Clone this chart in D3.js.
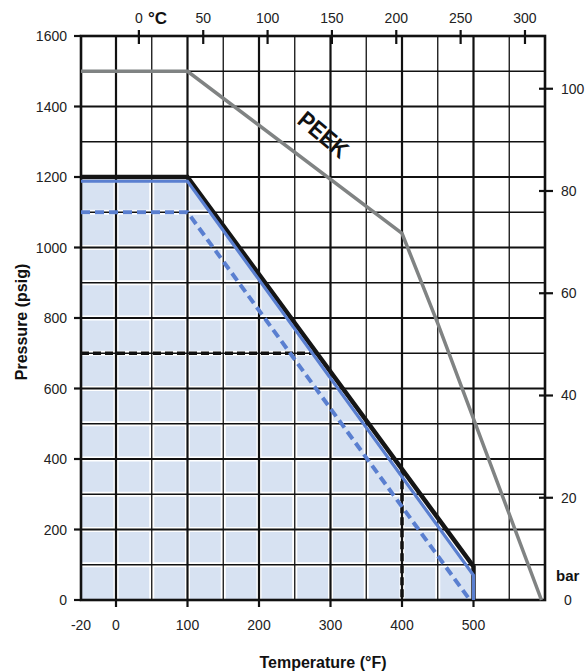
<!DOCTYPE html>
<html>
<head>
<meta charset="utf-8">
<script src="https://cdn.jsdelivr.net/npm/d3@7"></script>
<style>
  body { margin: 0; background: #fff; }
  text { font-family: "Liberation Sans Narrow", "Arial Narrow", "Liberation Sans", Arial, sans-serif; fill: #222; }
</style>
</head>
<body>
<svg id="chart" width="588" height="671"></svg>
<script>
// data (temperature in °F, pressure in psig)
var peekT = [-20, 100, 400, 450, 595];
var peekP = [1500, 1500, 1040, 785, 0];
var blackT = [-20, 100, 500, 500];
var blackP = [1200, 1200, 95, 0];
var blueT = [-20, 100, 500, 500];
var blueP = [1188, 1188, 70, 0];
var blueDashT = [-20, 100, 495];
var blueDashP = [1100, 1100, 0];
var dashHT = [-20, 281];
var dashHP = [700, 700];
var dashVT = [400, 400];
var dashVP = [371, 0];

var xTicks = [-20, 0, 100, 200, 300, 400, 500];
var yTicks = [0, 200, 400, 600, 800, 1000, 1200, 1400, 1600];
var cTicks = [0, 50, 100, 150, 200, 250, 300];
var barTicks = [20, 40, 60, 80, 100];

var svg = d3.select("#chart");

// left edge is labelled -20, grid starts at 0
var x = d3.scaleLinear().domain([-20, 0, 600]).range([81, 116, 545]);
var y = d3.scaleLinear().domain([0, 1600]).range([600, 36]);

function pts(T, P) { return T.map(function(t, i) { return [t, P[i]]; }); }
var line = d3.line().x(function(d) { return x(d[0]); }).y(function(d) { return y(d[1]); });

// fill under the blue line
var fillPts = [[-20, 0]].concat(pts(blueT, blueP));
svg.append("path")
  .attr("d", line(fillPts) + "Z")
  .style("fill", "#d7e2f2");

// grid
var vx = d3.range(0, 600, 50);
var hy = d3.range(100, 1600, 100);
var grid = svg.append("g");
grid.selectAll(".vw").data(vx).enter().append("line")
  .attr("x1", function(d) { return x(d); }).attr("x2", function(d) { return x(d); })
  .attr("y1", y(0)).attr("y2", y(1600))
  .style("stroke", "#fff").style("stroke-width", 5);
grid.selectAll(".hw").data(hy).enter().append("line")
  .attr("y1", function(d) { return y(d); }).attr("y2", function(d) { return y(d); })
  .attr("x1", x(-20)).attr("x2", x(600))
  .style("stroke", "#fff").style("stroke-width", 5);
grid.selectAll(".v").data(vx).enter().append("line")
  .attr("x1", function(d) { return x(d); }).attr("x2", function(d) { return x(d); })
  .attr("y1", y(0)).attr("y2", y(1600))
  .style("stroke", "#111")
  .style("stroke-width", function(d) { return d % 100 == 0 ? 2.2 : 1.3; });
grid.selectAll(".h").data(hy).enter().append("line")
  .attr("y1", function(d) { return y(d); }).attr("y2", function(d) { return y(d); })
  .attr("x1", x(-20)).attr("x2", x(600))
  .style("stroke", "#111")
  .style("stroke-width", function(d) { return d % 200 == 0 ? 2.2 : 1.3; });

svg.append("rect")
  .attr("x", x(-20)).attr("y", y(1600))
  .attr("width", x(600) - x(-20)).attr("height", y(0) - y(1600))
  .style("fill", "none").style("stroke", "#111").style("stroke-width", 2.6);

// curves
svg.append("path").attr("d", line(pts(peekT, peekP)))
  .style("fill", "none").style("stroke", "#808383").style("stroke-width", 3.5);
svg.append("path").attr("d", line(pts(dashHT, dashHP)))
  .style("fill", "none").style("stroke", "#111").style("stroke-width", 3.5)
  .style("stroke-dasharray", "8,4");
svg.append("path").attr("d", line(pts(dashVT, dashVP)))
  .style("fill", "none").style("stroke", "#111").style("stroke-width", 3.5)
  .style("stroke-dasharray", "8,4");
svg.append("path").attr("d", line(pts(blueDashT, blueDashP)))
  .style("fill", "none").style("stroke", "#5a7fd0").style("stroke-width", 4)
  .style("stroke-dasharray", "9,5");
svg.append("path").attr("d", line(pts(blackT, blackP)))
  .style("fill", "none").style("stroke", "#151515").style("stroke-width", 4.5);
svg.append("path").attr("d", line(pts(blueT, blueP)))
  .style("fill", "none").style("stroke", "#5a7fd0").style("stroke-width", 3.2);

svg.append("text")
  .attr("transform", "translate(318,141) rotate(40) scale(0.88,1)")
  .attr("text-anchor", "middle")
  .style("font-size", "24px").style("font-weight", "bold").style("fill", "#111")
  .text("PEEK");

// left axis
svg.selectAll(".yt").data(yTicks).enter().append("line")
  .attr("x1", x(-20) - 7).attr("x2", x(-20))
  .attr("y1", function(d) { return y(d); }).attr("y2", function(d) { return y(d); })
  .style("stroke", "#111").style("stroke-width", 2.2);
svg.selectAll(".yl").data(yTicks).enter().append("text")
  .attr("x", 67).attr("y", function(d) { return y(d) + 5; })
  .attr("text-anchor", "end").style("font-size", "14px")
  .text(function(d) { return d; });

// bottom axis
svg.selectAll(".xt").data(xTicks.filter(function(d) { return d >= 0; })).enter().append("line")
  .attr("x1", function(d) { return x(d); }).attr("x2", function(d) { return x(d); })
  .attr("y1", y(0)).attr("y2", y(0) + 7)
  .style("stroke", "#111").style("stroke-width", 2.2);
svg.selectAll(".xl").data(xTicks).enter().append("text")
  .attr("x", function(d) { return x(d); }).attr("y", 630)
  .attr("text-anchor", "middle").style("font-size", "14px")
  .text(function(d) { return d; });

// top axis in °C
var xc = function(c) { return x(c * 9 / 5 + 32); };
svg.selectAll(".ct").data(cTicks).enter().append("line")
  .attr("x1", function(d) { return xc(d); }).attr("x2", function(d) { return xc(d); })
  .attr("y1", 30).attr("y2", 44)
  .style("stroke", "#111").style("stroke-width", 2.2);
svg.selectAll(".cl").data(cTicks).enter().append("text")
  .attr("x", function(d) { return xc(d); }).attr("y", 23)
  .attr("text-anchor", "middle").style("font-size", "14px")
  .text(function(d) { return d; });
svg.append("text").attr("x", xc(0) + 9).attr("y", 24)
  .style("font-size", "17px").style("font-weight", "bold").style("fill", "#111")
  .text("°C");

// right axis in bar
var yb = function(b) { return y(b * 14.5038); };
svg.selectAll(".bt").data(barTicks).enter().append("line")
  .attr("x1", x(600) - 6).attr("x2", x(600) + 8)
  .attr("y1", function(d) { return yb(d); }).attr("y2", function(d) { return yb(d); })
  .style("stroke", "#111").style("stroke-width", 2.2);
svg.selectAll(".bl").data(barTicks.concat([0])).enter().append("text")
  .attr("x", function(d) { return d == 0 ? 564 : 561; }).attr("y", function(d) { return yb(d) + 5; })
  .style("font-size", "14px")
  .text(function(d) { return d; });
svg.append("text").attr("x", 556).attr("y", 581)
  .style("font-size", "15px").style("font-weight", "bold").style("fill", "#111")
  .text("bar");

// axis titles
svg.append("text")
  .attr("transform", "translate(27,322) rotate(-90)")
  .attr("text-anchor", "middle")
  .style("font-size", "16px").style("font-weight", "bold").style("fill", "#111")
  .text("Pressure (psig)");
svg.append("text")
  .attr("x", 323).attr("y", 668)
  .attr("text-anchor", "middle")
  .style("font-size", "16px").style("font-weight", "bold").style("fill", "#111")
  .text("Temperature (°F)");
</script>
</body>
</html>
